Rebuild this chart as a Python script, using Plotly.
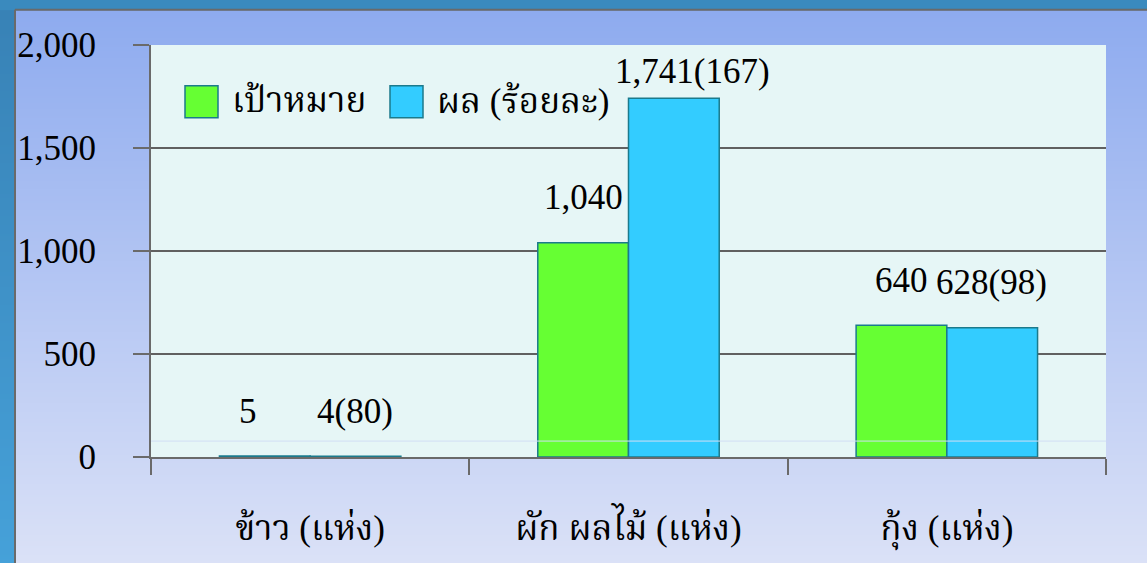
import base64
import struct
import zlib

import plotly.graph_objects as go

# ---------------- data ----------------
categories = ["ข้าว (แห่ง)", "ผัก ผลไม้ (แห่ง)", "กุ้ง (แห่ง)"]
target_values = [5, 1040, 640]
result_values = [4, 1741, 628]
result_percent = [80, 167, 98]
series_names = ["เป้าหมาย", "ผล (ร้อยละ)"]
y_ticks = [0, 500, 1000, 1500, 2000]

# ---------------- styles ----------------
FONT = ("Liberation Serif, Times New Roman, Norasi, Noto Serif Thai, "
        "TlwgTypo, Laksaman, DejaVu Serif, serif")
FS = 35
GREEN = "#66FF33"
BLUE = "#33CCFF"
EDGE = "#1B7A8C"
GRID = "#606060"

W, H = 1147, 563
ML, MR, MT, MB = 151, 41, 45, 104
PW, PH = W - ML - MR, H - MT - MB


def px_x(px):
    return (px - ML) / PW


def px_y(py):
    return (H - MB - py) / PH


def gradient_png(h, top, bottom, w=2):
    raw = b""
    for i in range(h):
        t = i / (h - 1)
        c = bytes(round(top[k] + (bottom[k] - top[k]) * t) for k in range(3))
        raw += b"\x00" + c * w

    def chunk(tag, data):
        return (struct.pack(">I", len(data)) + tag + data
                + struct.pack(">I", zlib.crc32(tag + data) & 0xFFFFFFFF))

    png = b"\x89PNG\r\n\x1a\n"
    png += chunk(b"IHDR", struct.pack(">IIBBBBB", w, h, 8, 2, 0, 0, 0))
    png += chunk(b"IDAT", zlib.compress(raw, 9))
    png += chunk(b"IEND", b"")
    return "data:image/png;base64," + base64.b64encode(png).decode()


panel_img = gradient_png(256, (142, 171, 239), (221, 227, 247))
strip_img = gradient_png(256, (56, 130, 182), (70, 162, 218))

fig = go.Figure()
fig.add_trace(go.Bar(x=categories, y=target_values, name=series_names[0],
                     marker=dict(color=GREEN, line=dict(color=EDGE, width=1.5)),
                     showlegend=False))
fig.add_trace(go.Bar(x=categories, y=result_values, name=series_names[1],
                     marker=dict(color=BLUE, line=dict(color=EDGE, width=1.5)),
                     showlegend=False))

# data labels
target_labels = [f"{v:,}" for v in target_values]
result_labels = [f"{v:,}({p})" for v, p in zip(result_values, result_percent)]
label_off = 45 * 2000 / PH
label_cap = 1869
target_xshift = [-62, -45, -45]
result_xshift = [45, 64, 45]
for i, c in enumerate(categories):
    fig.add_annotation(x=c, y=min(target_values[i] + label_off, label_cap),
                       text=target_labels[i], showarrow=False, xshift=target_xshift[i],
                       yanchor="middle", font=dict(family=FONT, size=FS, color="black"))
    fig.add_annotation(x=c, y=min(result_values[i] + label_off, label_cap),
                       text=result_labels[i], showarrow=False, xshift=result_xshift[i],
                       yanchor="middle", font=dict(family=FONT, size=FS, color="black"))

# custom legend (large swatches)
legend_items = [(series_names[0], GREEN, 185), (series_names[1], BLUE, 390)]
for name, col, lx in legend_items:
    fig.add_shape(type="rect", xref="paper", yref="paper",
                  x0=px_x(lx), x1=px_x(lx + 33), y0=px_y(118), y1=px_y(86),
                  fillcolor=col, line=dict(color=EDGE, width=1.5), layer="above")
    fig.add_annotation(xref="paper", yref="paper", x=px_x(lx + 45), y=px_y(101),
                       text=name, showarrow=False, xanchor="left", yanchor="middle",
                       font=dict(family=FONT, size=FS, color="black"))

# background: panel gradient, left strip, border, plot bg
fig.add_layout_image(source=strip_img, xref="paper", yref="paper",
                     x=px_x(0), y=px_y(10), sizex=16 / PW, sizey=(H + 10) / PH,
                     xanchor="left", yanchor="top", sizing="stretch", layer="below")
fig.add_layout_image(source=panel_img, xref="paper", yref="paper",
                     x=px_x(16), y=px_y(10), sizex=(W + 10) / PW, sizey=(H + 10) / PH,
                     xanchor="left", yanchor="top", sizing="stretch", layer="below")
fig.add_shape(type="line", xref="paper", yref="paper", x0=px_x(15), x1=px_x(W + 10),
              y0=px_y(9.5), y1=px_y(9.5), line=dict(color="#6A6A6A", width=2), layer="below")
fig.add_shape(type="line", xref="paper", yref="paper", x0=px_x(15), x1=px_x(15),
              y0=px_y(9.5), y1=px_y(H + 10), line=dict(color="#6A6A6A", width=2), layer="below")
fig.add_shape(type="rect", xref="paper", yref="paper", x0=0, x1=1, y0=0, y1=1,
              fillcolor="#E6F6F6", line=dict(width=0), layer="below")
fig.add_shape(type="line", xref="paper", yref="paper", x0=0, x1=1,
              y0=px_y(443), y1=px_y(443), line=dict(color="#D2DEF4", width=1), layer="above")

fig.update_layout(
    width=W, height=H,
    margin=dict(l=ML, r=MR, t=MT, b=MB, pad=0),
    paper_bgcolor="#3A8ABE",
    plot_bgcolor="rgba(0,0,0,0)",
    barmode="group", bargap=0.43, bargroupgap=0,
    showlegend=False,
    font=dict(family=FONT, size=FS, color="black"),
)
fig.update_yaxes(range=[0, 2000], tickvals=y_ticks, tickformat=",", showgrid=True,
                 gridcolor=GRID, gridwidth=2, zeroline=False,
                 showline=True, linecolor="#6A6A6A", linewidth=2,
                 ticks="outside", ticklen=16, tickwidth=2, tickcolor="#6A6A6A",
                 ticklabelstandoff=30, tickfont=dict(family=FONT, size=FS, color="black"))
fig.update_xaxes(showline=True, linecolor="#6A6A6A", linewidth=2,
                 ticks="outside", tickson="boundaries", ticklen=16, tickwidth=2,
                 tickcolor="#6A6A6A", ticklabelstandoff=39,
                 tickfont=dict(family=FONT, size=FS, color="black"))

fig.write_html("out.html", config={"displayModeBar": False},
               post_script="document.body.style.margin='0';document.body.style.overflow='hidden';")
